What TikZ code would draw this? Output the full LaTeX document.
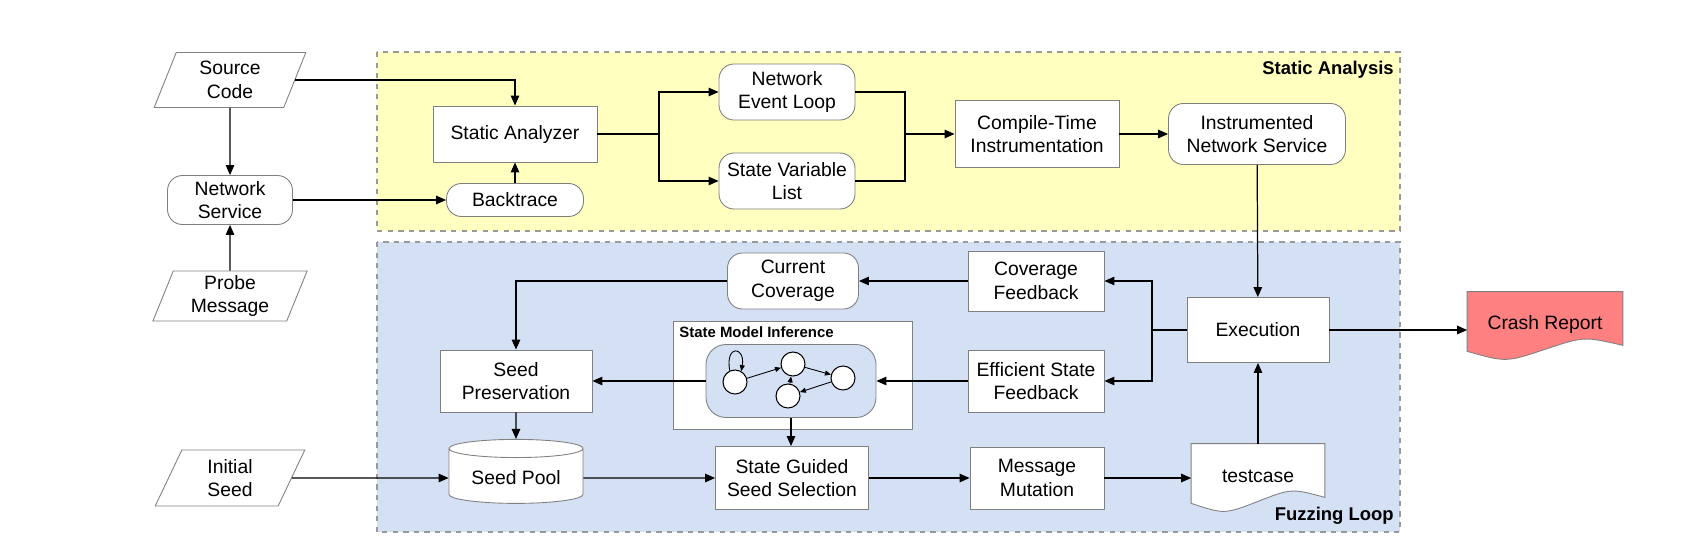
\documentclass[tikz,border=0pt]{standalone}
\usepackage{fontspec}
\setmainfont{Liberation Sans}
\usepackage{tikz}
\usetikzlibrary{arrows.meta,positioning,calc,shapes.geometric,backgrounds}
\definecolor{saYellow}{HTML}{FFFFC0}
\definecolor{flBlue}{HTML}{D4E1F5}
\definecolor{crashRed}{HTML}{FF8080}
\definecolor{edgeGray}{HTML}{808080}

\begin{document}
\begin{tikzpicture}[x=0.02cm,y=-0.02cm,
  font=\fontsize{11}{13.5}\selectfont,
  >={Triangle[length=2mm,width=1.7mm]},
  conn/.style={->,line width=0.7pt},
  smallarr/.style={-{Triangle[length=1.2mm,width=1mm]},line width=0.5pt},
  box/.style={draw=edgeGray,fill=white,line width=0.5pt,align=center,inner sep=2pt},
  rbox/.style={box,rounded corners=0.3cm},
  inbox/.style={draw=edgeGray,fill=white,line width=0.5pt,trapezium,trapezium left angle=72,trapezium right angle=108,trapezium stretches=true,align=center,inner sep=1pt},
  pool/.style={draw=edgeGray,fill=white,line width=0.5pt,cylinder,shape border rotate=90,aspect=0.18,align=center},
  doc/.style={align=center,inner sep=0pt},
  region/.style={draw=edgeGray!80,dashed,line width=0.6pt},
  state/.style={circle,draw=black,fill=white,minimum size=0.48cm,inner sep=0pt,line width=0.6pt},
  tag/.style={font=\bfseries\fontsize{10.5}{12}\selectfont,anchor=east,inner sep=0pt},
]
  \useasboundingbox (0,0) rectangle (1682,555);

  % inputs
  \node[inbox,minimum width=3.04cm,minimum height=1.1cm] (src) at (230,80) {Source\\Code};
  \node[rbox,minimum width=2.5cm,minimum height=0.98cm] (netsvc) at (230,200) {Network\\Service};
  \node[inbox,minimum width=3.1cm,minimum height=1.0cm] (probe) at (230,296) {Probe\\Message};
  \node[inbox,minimum width=3.0cm,minimum height=1.12cm] (iseed) at (230,478) {Initial\\Seed};

  % static analysis
  \node[box,minimum width=3.28cm,minimum height=1.12cm] (analyzer) at (515,134) {Static Analyzer};
  \node[rbox,minimum width=2.74cm,minimum height=0.66cm] (btrace) at (515,200) {Backtrace};
  \node[rbox,minimum width=2.72cm,minimum height=1.12cm] (evloop) at (787,92) {Network\\Event Loop};
  \node[rbox,minimum width=2.72cm,minimum height=1.12cm] (svlist) at (787,181) {State Variable\\List};
  \node[box,minimum width=3.28cm,minimum height=1.34cm] (cti) at (1037,134) {Compile-Time\\Instrumentation};
  \node[rbox,minimum width=3.54cm,minimum height=1.22cm] (insvc) at (1257,134) {Instrumented\\Network Service};
  \node[tag] (salabel) at (1394,70) {Static Analysis};

  % fuzzing loop
  \node[box,minimum width=2.84cm,minimum height=1.3cm] (exec) at (1258,330) {Execution};
  \node[box,minimum width=2.72cm,minimum height=1.2cm] (covfb) at (1036,281) {Coverage\\Feedback};
  \node[rbox,minimum width=2.62cm,minimum height=1.12cm] (curcov) at (793,281) {Current\\Coverage};
  \node[box,minimum width=2.72cm,minimum height=1.24cm] (esfb) at (1036,381) {Efficient State\\Feedback};
  \node[box,minimum width=3.04cm,minimum height=1.24cm] (preserve) at (516,381) {Seed\\Preservation};
  \node[pool,minimum width=2.68cm,minimum height=1.28cm] (pool) at (516,478) {Seed Pool};
  \node[box,minimum width=3.06cm,minimum height=1.26cm] (select) at (792,478) {State Guided\\Seed Selection};
  \node[box,minimum width=2.68cm,minimum height=1.24cm] (mutate) at (1037,478) {Message\\Mutation};
  \node[doc,minimum width=2.66cm,minimum height=1.28cm] (tcase) at (1258,476) {testcase};
  \node[doc,minimum width=3.1cm,minimum height=1.28cm] (crash) at (1545,324) {Crash Report};
  \node[tag] (fllabel) at (1394,516) {Fuzzing Loop};

  % state model inference
  \node[draw=edgeGray,fill=white,line width=0.5pt,minimum width=4.78cm,minimum height=2.16cm] (smi) at (792.5,375) {};
  \node[font=\bfseries\fontsize{8.5}{10}\selectfont,anchor=north west,inner sep=0pt] (smilabel) at (679,326) {State Model Inference};
  \node[draw=edgeGray,fill=flBlue,line width=0.5pt,rounded corners=0.4cm,minimum width=3.4cm,minimum height=1.46cm] (smgraph) at (791,381) {};
  \node[state] (s1) at (735,382) {};
  \node[state] (s2) at (793,364) {};
  \node[state] (s3) at (843,378) {};
  \node[state] (s4) at (788,396) {};
  \draw[smallarr] (s1) -- (s2);
  \draw[smallarr] (s2) -- (s3);
  \draw[smallarr] (s3) -- (s4);
  \draw[smallarr] (s4) -- (s2);
  \draw[smallarr] (s1.115) .. controls +(100:0.55cm) and +(80:0.5cm) .. (s1.60);

  % connectors, static part
  \draw[conn] (src.east) -| (analyzer.north);
  \draw[conn] (src) -- (netsvc);
  \draw[conn] (probe) -- (netsvc);
  \draw[conn] (netsvc) -- (btrace);
  \draw[conn] (btrace) -- (analyzer);
  \coordinate (split) at (659,134);
  \draw[line width=0.7pt] (analyzer.east) -- (split);
  \draw[conn] (split) |- (evloop.west);
  \draw[conn] (split) |- (svlist.west);
  \coordinate (merge) at (905,134);
  \draw[line width=0.7pt] (evloop.east) -| (merge);
  \draw[line width=0.7pt] (svlist.east) -| (merge);
  \draw[conn] (merge) -- (cti.west);
  \draw[conn] (cti) -- (insvc);
  \draw[conn] (insvc) -- (exec);

  % connectors, fuzzing part
  \draw[conn] (exec.east) -- (exec.east -| crash.west);
  \coordinate (fork) at (1152,330);
  \draw[line width=0.7pt] (exec.west) -- (fork);
  \draw[conn] (fork) |- (covfb.east);
  \draw[conn] (fork) |- (esfb.east);
  \draw[conn] (covfb) -- (curcov);
  \draw[conn] (curcov.west) -| (preserve.north);
  \draw[conn] (esfb) -- (smgraph);
  \draw[conn] (smgraph) -- (preserve);
  \draw[conn] (smgraph.south) -- (smgraph.south |- select.north);
  \draw[conn] (preserve) -- (pool);
  \draw[conn] (iseed) -- (pool);
  \draw[conn] (pool) -- (select);
  \draw[conn] (select) -- (mutate);
  \draw[conn] (mutate.east) -- (mutate.east -| tcase.west);
  \draw[conn] (tcase) -- (exec);

  \begin{scope}[on background layer]
    \filldraw[fill=saYellow,region] (377,52) rectangle (1400,231);
    \filldraw[fill=flBlue,region] (377,242) rectangle (1400,532);
    \foreach \d/\c in {tcase/white,crash/crashRed}{
      \filldraw[fill=\c,draw=edgeGray,line width=0.5pt] (\d.north west) -- (\d.north east)
        -- ($(\d.south east)+(0,-11)$)
        .. controls ($(\d.south west)!0.75!(\d.south east)+(0,-20)$) .. ($(\d.south west)!0.5!(\d.south east)+(0,-7)$)
        .. controls ($(\d.south west)!0.25!(\d.south east)+(0,6)$) .. ($(\d.south west)+(0,-5)$) -- cycle;
    }
  \end{scope}
\end{tikzpicture}
\end{document}
